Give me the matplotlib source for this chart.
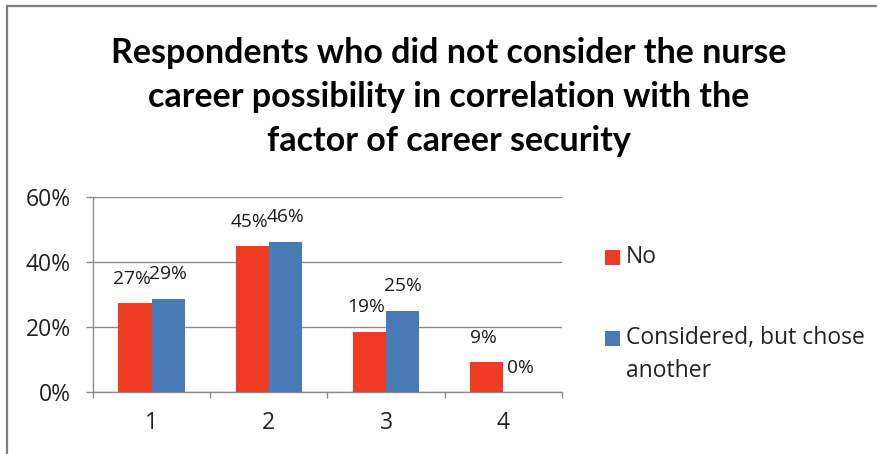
import matplotlib

matplotlib.use("Agg")
import matplotlib.pyplot as plt
from matplotlib.patches import Rectangle
from matplotlib.ticker import FixedLocator, PercentFormatter

plt.rcParams["font.family"] = ["Open Sans", "DejaVu Sans"]

TITLE = ("Respondents who did not consider the nurse\n"
         "career possibility in correlation with the\n"
         "factor of career security")

categories = ["1", "2", "3", "4"]
series_names = ["No", "Considered, but chose\nanother"]
no_values = [0.274, 0.448, 0.186, 0.092]
considered_values = [0.287, 0.463, 0.250, 0.0]
y_ticks = [0.0, 0.2, 0.4, 0.6]

RED = "#EE3B22"
BLUE = "#4A7AB5"
GRID = "#8C8C8C"
TEXT = "#222222"

W, H = 878, 454
fig = plt.figure(figsize=(W / 100, H / 100), dpi=100)

# outer chart frame (right and bottom edges fall outside the canvas)
fig.patches.append(Rectangle((7 / W, -0.05), 1.0, 1 - 6 / H + 0.05,
                             transform=fig.transFigure, fill=False,
                             edgecolor="#7F7F7F", linewidth=1.6))

ax = fig.add_axes([93 / W, 1 - 392 / H, (562 - 93) / W, (392 - 197) / H])

x = list(range(len(categories)))
width = 0.284
bars_no = ax.bar([i - width / 2 for i in x], no_values, width, color=RED, zorder=3)
bars_con = ax.bar([i + width / 2 for i in x], considered_values, width, color=BLUE, zorder=3)

for bars, vals, dx in ((bars_no, no_values, -0.025), (bars_con, considered_values, 0.0)):
    for b, v in zip(bars, vals):
        ax.annotate(f"{round(v * 100)}%", (b.get_x() + b.get_width() / 2 + dx, v),
                    xytext=(0, 17.5), textcoords="offset points",
                    ha="center", va="center", fontsize=13.8, color="#1a1a1a")

ax.set_xlim(-0.5, len(categories) - 0.5)
ax.set_ylim(0, 0.6)
ax.yaxis.set_major_locator(FixedLocator(y_ticks))
ax.yaxis.set_major_formatter(PercentFormatter(1.0, decimals=0))
ax.set_xticks(x)
ax.set_xticklabels(categories)
ax.xaxis.set_minor_locator(FixedLocator([i - 0.5 for i in range(len(categories) + 1)]))

ax.grid(axis="y", color=GRID, linewidth=1.0, zorder=0)
for side in ("top", "right"):
    ax.spines[side].set_visible(False)
for side in ("left", "bottom"):
    ax.spines[side].set_color(GRID)
    ax.spines[side].set_linewidth(1.0)

ax.tick_params(axis="y", length=5, width=1, color=GRID, pad=11, labelsize=16.5, labelcolor=TEXT)
ax.tick_params(axis="x", which="major", length=0, pad=14, labelsize=16.5, labelcolor=TEXT)
ax.tick_params(axis="x", which="minor", length=4.5, width=1, color=GRID)

fig.text(449 / W, 1 - 97 / H, TITLE, ha="center", va="center", family="Lato",
         fontsize=24.5, fontweight="bold", linespacing=1.45)

# legend
for name, color, ycen in ((series_names[0], RED, 257), (series_names[1], BLUE, 338)):
    fig.patches.append(Rectangle((605 / W, 1 - (ycen + 7.5) / H), 15 / W, 15 / H,
                                 transform=fig.transFigure, facecolor=color,
                                 edgecolor="none"))
    fig.text(626 / W, 1 - (ycen - 12) / H, name, ha="left", va="top",
             fontsize=16.5, color=TEXT, linespacing=1.5)

fig.savefig("out.png", dpi=100)
